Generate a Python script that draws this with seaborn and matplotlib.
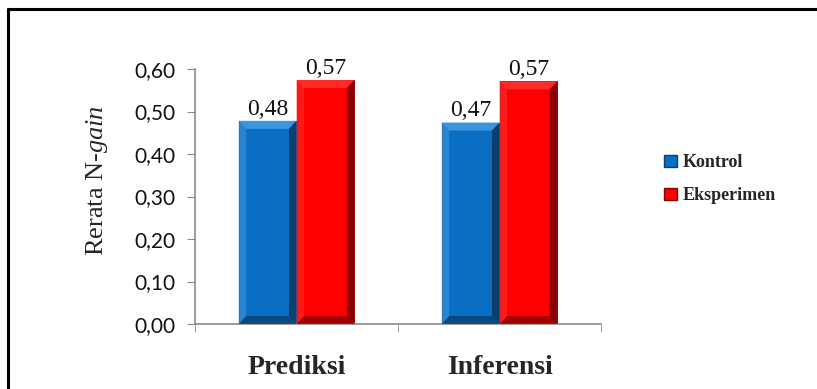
import numpy as np
import pandas as pd
import matplotlib.pyplot as plt
import seaborn as sns
from matplotlib.patches import Polygon, Patch
from matplotlib.lines import Line2D

# data
categories = ['Prediksi', 'Inferensi']
groups = ['Kontrol', 'Eksperimen']
kontrol = [0.478, 0.474]
eksperimen = [0.574, 0.571]
yticks = [0.0, 0.1, 0.2, 0.3, 0.4, 0.5, 0.6]

df = pd.DataFrame({
    'Kategori': categories * 2,
    'Kelompok': [groups[0]] * 2 + [groups[1]] * 2,
    'Nilai': kontrol + eksperimen,
})

# colours: face, light bevel, dark bevel
face = {'Kontrol': '#0A6FC2', 'Eksperimen': '#FF0000'}
light = {'Kontrol': '#3D95E0', 'Eksperimen': '#FF2A2A'}
dark = {'Kontrol': '#0B3F6E', 'Eksperimen': '#8A0000'}

sns.set_style('white')
plt.rcParams['mathtext.fontset'] = 'custom'
plt.rcParams['mathtext.it'] = 'Liberation Serif:italic'
plt.rcParams['mathtext.rm'] = 'Liberation Serif'

fig = plt.figure(figsize=(8.17, 3.89), dpi=100)
ax = fig.add_axes([195 / 817, 1 - 324 / 389, (601 - 195) / 817, (324 - 69) / 389])

sns.barplot(data=df, x='Kategori', y='Nilai', hue='Kelompok', palette=face,
            width=0.57, gap=0, ax=ax, legend=False, saturation=1, errorbar=None)

ax.set_ylim(0, 0.6)
ax.set_xlim(-0.5, 1.5)

# bevel look, built from each bar's own geometry
px_y = 0.6 / 255
for container, g in zip(ax.containers, groups):
    for bar in container:
        x0, y0 = bar.get_x(), bar.get_y()
        w, h = bar.get_width(), bar.get_height()
        bx = w * 0.13
        by = 8 * px_y
        x1 = x0 + w
        y1 = y0 + h
        bar.set_edgecolor(dark[g])
        bar.set_linewidth(0.6)
        ax.add_patch(Polygon([(x0, y1), (x1, y1), (x1 - bx, y1 - by), (x0 + bx, y1 - by)],
                             closed=True, facecolor=light[g], edgecolor='none', zorder=3))
        ax.add_patch(Polygon([(x1, y1), (x1, y0), (x1 - bx, y0 + by), (x1 - bx, y1 - by)],
                             closed=True, facecolor=dark[g], edgecolor='none', zorder=3))
        ax.add_patch(Polygon([(x0, y0), (x1, y0), (x1 - bx, y0 + by), (x0 + bx, y0 + by)],
                             closed=True, facecolor=dark[g], edgecolor='none', alpha=0.8, zorder=3))
        ax.add_patch(Polygon([(x0, y1), (x0, y0), (x0 + bx, y0 + by), (x0 + bx, y1 - by)],
                             closed=True, facecolor=light[g], edgecolor='none', alpha=0.6, zorder=3))
        ax.text(x0 + w / 2, y1 + 0.003, f'{h:.2f}'.replace('.', ','), ha='center', va='bottom',
                family='Liberation Serif', fontsize=17, color='#111111', zorder=4)

ax.set_yticks(yticks)
ax.set_yticklabels([f'{t:.2f}'.replace('.', ',') for t in yticks],
                   family='Lato', fontsize=15, color='#111111')
ax.set_xticks([-0.5, 0.5, 1.5], minor=True)
ax.set_xticks([0, 1])
ax.set_xticklabels(categories, family='Liberation Serif', fontsize=20, fontweight='bold')
ax.tick_params(axis='x', which='major', length=0, pad=22)
ax.tick_params(axis='x', which='minor', length=6, color='#8C8C8C', direction='out', bottom=True)
ax.tick_params(axis='y', length=6, color='#8C8C8C', direction='out', left=True, pad=8)
ax.set_xlabel('')
ax.set_ylabel('')

for side in ['top', 'right']:
    ax.spines[side].set_visible(False)
for side in ['left', 'bottom']:
    ax.spines[side].set_color('#8C8C8C')
    ax.spines[side].set_linewidth(1.2)

fig.text(97 / 817, 1 - 180 / 389, r'Rerata N-$\mathit{gain}$', rotation=90,
         ha='center', va='center', family='Liberation Serif', fontsize=19)

# legend
handles = [Patch(facecolor=face[g], edgecolor=dark[g]) for g in groups]
fig.legend(handles, groups, loc='upper left', bbox_to_anchor=(648 / 817, 1 - 138 / 389),
           frameon=False, prop={'family': 'Liberation Serif', 'weight': 'bold', 'size': 13},
           handlelength=0.7, handleheight=0.7, handletextpad=0.3, labelspacing=0.9)

# outer frame (only left and top edges visible in the reference)
fig.add_artist(Line2D([7.5 / 817, 7.5 / 817], [0, 1 - 9 / 389], color='black', lw=2.2,
                      transform=fig.transFigure))
fig.add_artist(Line2D([7.5 / 817, 1], [1 - 9 / 389, 1 - 9 / 389], color='black', lw=2.2,
                      transform=fig.transFigure))

fig.savefig('out.png', dpi=100, facecolor='white')
